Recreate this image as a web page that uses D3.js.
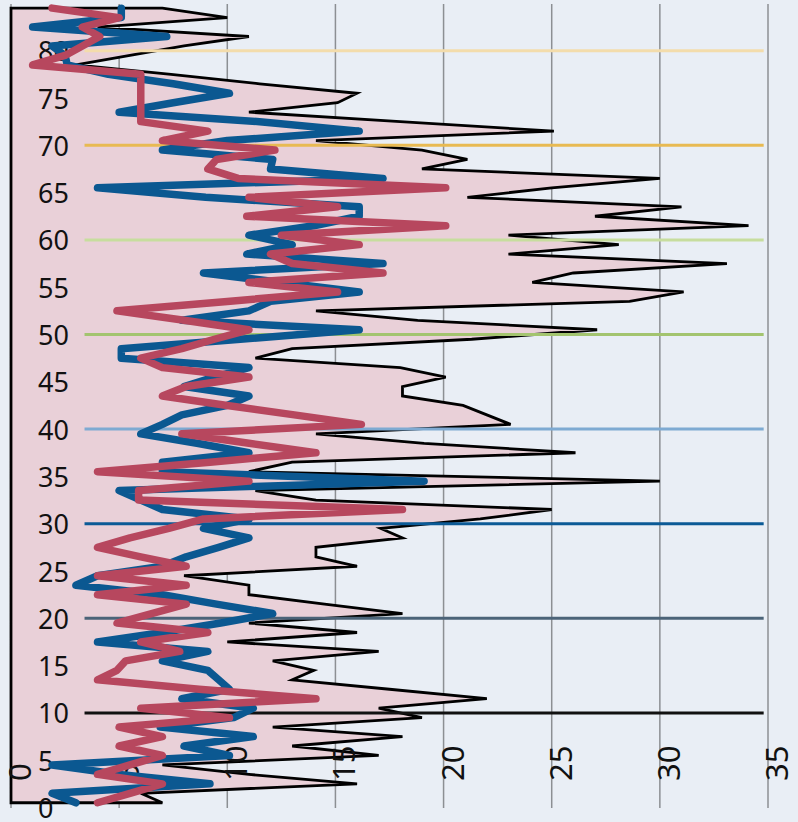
<!DOCTYPE html>
<meta charset="utf-8">
<style>
body { margin: 0; background: #e9eef5; }
text { font-family: "Noto Sans", sans-serif; fill: #111; }
</style>
<svg width="798" height="822"></svg>
<script src="https://cdn.jsdelivr.net/npm/d3@7"></script>
<script>
// one value per year of age, 0..84 (plotted at mid-year)
var ages = d3.range(0, 85);

var totalVals = [7.0, 6.0, 16.0, 11.0, 7.0, 17.0, 13.0, 18.1, 12.1, 19.0,
  17.0, 22.0, 17.5, 13.0, 14.0, 12.1, 17.0, 10.0, 16.0, 11.0,
  18.1, 14.5, 11.0, 11.0, 8.0, 16.0, 14.1, 14.1, 18.1, 17.1,
  21.7, 25.0, 14.1, 11.3, 30.0, 11.0, 13.0, 26.1, 19.1, 14.1,
  23.1, 22.0, 20.9, 18.1, 18.1, 20.1, 18.0, 11.3, 13.0, 21.3,
  27.1, 18.8, 14.1, 28.6, 31.1, 24.1, 26.0, 33.1, 23.0, 28.1,
  23.0, 34.1, 27.0, 31.0, 21.1, 25.0, 30.0, 19.0, 21.1, 19.0,
  14.1, 25.1, 18.0, 11.0, 15.1, 16.0, 11.5, 7.4, 3.0, 5.5,
  8.0, 11.0, 4.0, 10.0, 7.0];

var blueVals = [3.0, 1.9, 9.2, 5.0, 1.9, 10.1, 8.0, 11.2, 6.9, 10.3,
  11.2, 7.9, 10.1, 9.6, 9.1, 7.0, 9.1, 4.0, 7.0, 9.7,
  12.1, 9.5, 7.0, 3.0, 4.0, 7.0, 8.1, 9.6, 11.0, 8.9,
  11.0, 7.0, 6.0, 5.0, 19.1, 7.0, 7.0, 11.0, 8.6, 6.0,
  7.0, 7.9, 10.0, 11.0, 8.0, 9.4, 11.0, 5.1, 5.1, 10.6,
  16.1, 7.9, 11.0, 12.0, 16.1, 12.5, 8.9, 17.2, 10.9, 13.0,
  11.0, 14.0, 16.1, 16.1, 9.0, 4.0, 17.2, 12.0, 12.1, 7.0,
  10.0, 16.1, 11.5, 5.0, 7.5, 10.1, 7.5, 4.5, 2.6, 2.5,
  1.9, 7.2, 1.0, 5.1, 5.1];

var redVals = [4.0, 5.5, 7.0, 4.0, 5.5, 7.0, 5.0, 7.0, 5.0, 10.1,
  6.0, 14.1, 8.7, 4.0, 4.9, 5.3, 7.8, 6.0, 9.1, 4.9,
  6.5, 8.1, 4.0, 8.1, 4.0, 8.1, 6.0, 4.0, 5.5, 7.3,
  8.9, 18.1, 5.9, 5.9, 11.0, 4.0, 9.2, 14.1, 11.0, 7.9,
  16.2, 13.1, 10.0, 7.0, 8.1, 11.0, 7.0, 6.0, 7.9, 9.4,
  11.0, 8.0, 4.9, 10.0, 15.1, 11.0, 17.2, 13.0, 12.0, 16.1,
  12.5, 20.1, 10.9, 15.1, 11.0, 20.1, 10.5, 9.1, 9.5, 12.2,
  7.0, 9.1, 6.0, 6.0, 6.0, 6.0, 6.0, 6.0, 1.0, 2.5,
  3.3, 4.1, 3.3, 5.0, 1.9];

var xTicks = [0, 5, 10, 15, 20, 25, 30, 35];
var yTicks = [0, 5, 10, 15, 20, 25, 30, 35, 40, 45, 50, 55, 60, 65, 70, 75, 80];
var refAges = [10, 20, 30, 40, 50, 60, 70, 80];
var refColors = ["#111111", "#4b6378", "#0b5a96", "#7eaad2", "#a3c46f", "#c7dd9e", "#e8ba52", "#f3dcab"];

var svg = d3.select("svg");

var x = d3.scaleLinear().domain([0, 35]).range([11, 768]);
var y = d3.scaleLinear().domain([0, 80]).range([807.5, 50.7]);

function rows(vals) {
  return ages.map(function(a, i) { return {age: a + 0.5, v: vals[i]}; });
}

svg.append("rect").attr("width", 798).attr("height", 822).attr("fill", "#e9eef5");

// vertical grid
svg.append("g").selectAll("line")
  .data(xTicks)
  .enter().append("line")
  .attr("x1", function(d) { return x(d); })
  .attr("x2", function(d) { return x(d); })
  .attr("y1", 4).attr("y2", 808)
  .attr("stroke", "#8c8f93").attr("stroke-width", 1.5);

// total area
var area = d3.area()
  .y(function(d) { return y(d.age); })
  .x0(x(0))
  .x1(function(d) { return x(d.v); });

svg.append("path")
  .datum(rows(totalVals))
  .attr("d", area)
  .attr("fill", "#e9d0d8")
  .attr("stroke", "#000")
  .attr("stroke-width", 2.8)
  .attr("stroke-linejoin", "miter");

// decade lines
svg.append("g").selectAll("line")
  .data(refAges)
  .enter().append("line")
  .attr("x1", x(3.4)).attr("x2", x(34.8))
  .attr("y1", function(d) { return y(d); })
  .attr("y2", function(d) { return y(d); })
  .attr("stroke", function(d, i) { return refColors[i]; })
  .attr("stroke-width", 3);

// y labels
svg.append("g").selectAll("text")
  .data(yTicks)
  .enter().append("text")
  .attr("x", 38)
  .attr("y", function(d) { return y(d); })
  .attr("dominant-baseline", "central")
  .style("font-size", "27px")
  .text(function(d) { return d; });

// x labels, rotated
svg.append("g").selectAll("text")
  .data(xTicks)
  .enter().append("text")
  .attr("transform", function(d) { return "translate(" + (x(d) + 8) + ",781) rotate(-90)"; })
  .attr("dominant-baseline", "central")
  .attr("text-anchor", "start")
  .style("font-size", "31px")
  .text(function(d) { return d; });

var line = d3.line()
  .y(function(d) { return y(d.age); })
  .x(function(d) { return x(d.v); });

svg.append("path")
  .datum(rows(blueVals))
  .attr("d", line)
  .attr("fill", "none")
  .attr("stroke", "#0b5891")
  .attr("stroke-width", 7.5)
  .attr("stroke-linejoin", "round")
  .attr("stroke-linecap", "round");

svg.append("path")
  .datum(rows(redVals))
  .attr("d", line)
  .attr("fill", "none")
  .attr("stroke", "#b7475e")
  .attr("stroke-width", 7.5)
  .attr("stroke-linejoin", "round")
  .attr("stroke-linecap", "round");
</script>
